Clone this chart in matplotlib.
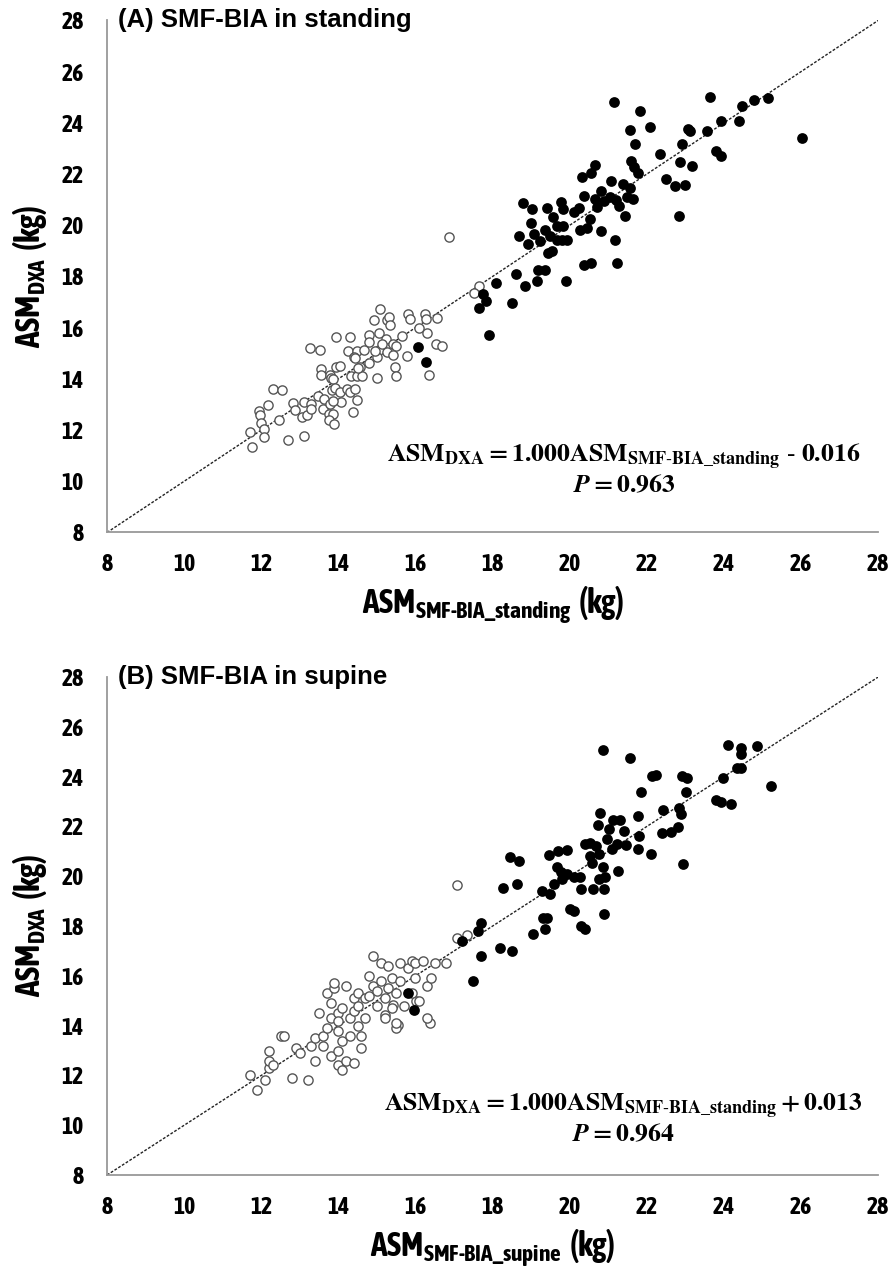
import matplotlib
matplotlib.use('Agg')
import matplotlib.pyplot as plt
from matplotlib import font_manager

# pick a condensed sans that has a bold face, else plain Liberation Sans
bold_narrow = sorted({f.name for f in font_manager.fontManager.ttflist
                      if ('Narrow' in f.name or 'Condensed' in f.name)
                      and isinstance(f.weight, int) and f.weight >= 600
                      or ('Narrow' in f.name or 'Condensed' in f.name)
                      and str(f.weight).lower() in ('bold', 'heavy', 'black', 'demibold', 'semibold')})
SANS = bold_narrow[0] if bold_narrow else 'Liberation Sans'

plt.rcParams['mathtext.fontset'] = 'custom'
plt.rcParams['mathtext.rm'] = SANS + ':bold'
plt.rcParams['mathtext.bf'] = SANS + ':bold'
plt.rcParams['mathtext.it'] = SANS + ':bold'

# ---- data (kg) ----
# (A) standing, filled = men, open = women
a_fill_x = [21.15, 23.63, 21.82, 25.14, 24.78, 24.46, 21.56, 22.09, 23.07, 23.11, 23.55, 23.92, 24.40,
            26.03, 21.70, 22.92, 22.35, 22.86, 23.18, 23.79, 23.92, 21.59, 21.67, 21.78, 20.67, 20.55,
            20.31, 21.08, 21.39, 21.57, 22.50, 22.73, 22.99, 20.81, 20.37, 20.67, 20.88, 20.72, 21.05,
            21.20, 21.27, 21.50, 21.64, 21.44, 22.83, 18.80, 19.02, 19.42, 19.78, 19.84, 20.10, 20.25,
            19.58, 19.68, 19.84, 19.00, 18.68, 19.08, 18.93, 19.22, 19.35, 19.48, 19.67, 19.80, 19.92,
            20.27, 20.46, 20.53, 20.81, 21.17, 19.45, 19.54, 19.17, 19.36, 20.38, 20.55, 21.22, 18.61,
            19.16, 18.84, 19.91, 18.08, 18.51, 17.75, 17.83, 17.66, 17.92, 16.07, 16.27]
a_fill_y = [24.82, 25.00, 24.48, 24.98, 24.91, 24.67, 23.74, 23.85, 23.77, 23.70, 23.69, 24.07, 24.07,
            23.39, 23.16, 23.16, 22.78, 22.49, 22.31, 22.90, 22.70, 22.51, 22.27, 22.04, 22.35, 22.04,
            21.87, 21.72, 21.62, 21.46, 21.80, 21.55, 21.57, 21.32, 21.16, 21.03, 20.94, 20.70, 21.10,
            20.97, 20.75, 21.12, 21.01, 20.38, 20.36, 20.86, 20.64, 20.68, 20.90, 20.64, 20.51, 20.67,
            20.32, 19.97, 19.97, 20.10, 19.59, 19.64, 19.28, 19.37, 19.82, 19.60, 19.41, 19.41, 19.41,
            19.82, 19.89, 20.25, 19.76, 19.41, 18.91, 18.99, 18.26, 18.24, 18.46, 18.54, 18.54, 18.08,
            17.82, 17.64, 17.84, 17.73, 16.96, 17.32, 17.04, 16.75, 15.73, 15.25, 14.65]
a_open_x = [16.86, 17.66, 17.52, 15.08, 14.93, 15.25, 15.32, 15.34, 15.81, 15.86, 16.26, 16.28, 16.57,
            16.08, 16.31, 15.65, 16.53, 16.69, 15.79, 16.36, 15.48, 15.50, 15.01, 13.27, 13.53, 13.93,
            14.29, 14.79, 15.06, 15.24, 15.43, 15.49, 15.05, 15.25, 15.43, 14.25, 14.48, 14.67, 14.79,
            14.41, 14.99, 14.80, 14.56, 13.56, 13.56, 13.78, 13.94, 14.04, 14.32, 14.48, 14.61, 13.82,
            13.87, 14.51, 12.31, 12.53, 12.17, 11.95, 11.97, 12.00, 12.07, 11.71, 11.76, 12.08, 12.46,
            12.69, 13.11, 12.82, 12.88, 13.05, 13.18, 13.11, 13.28, 13.30, 13.48, 13.63, 13.61, 13.78,
            13.83, 13.91, 14.04, 14.23, 14.29, 14.43, 14.48, 14.06, 13.87, 13.75, 13.87, 13.75, 13.89,
            14.39, 15.13, 14.96, 14.42]
a_open_y = [19.54, 17.61, 17.35, 16.74, 16.29, 16.31, 16.41, 16.09, 16.54, 16.34, 16.54, 16.35, 16.38,
            15.97, 15.79, 15.68, 15.36, 15.29, 14.88, 14.17, 14.48, 14.13, 14.04, 15.20, 15.12, 15.63,
            15.64, 15.71, 15.79, 15.55, 15.37, 15.28, 15.14, 15.06, 14.95, 15.08, 15.08, 15.14, 15.43,
            14.85, 14.85, 14.61, 14.46, 14.38, 14.15, 14.17, 14.46, 14.52, 14.13, 14.13, 14.13, 14.04,
            14.00, 14.43, 13.61, 13.55, 12.99, 12.74, 12.57, 12.27, 12.05, 11.92, 11.33, 11.72, 12.40,
            11.63, 11.75, 13.05, 12.79, 12.51, 12.57, 13.08, 13.03, 12.83, 13.35, 13.22, 12.83, 13.00,
            13.55, 13.65, 13.48, 13.61, 13.48, 13.61, 13.19, 13.09, 13.13, 12.61, 12.64, 12.38, 12.22,
            12.70, 15.37, 15.07, 14.82]

# (B) supine
b_fill_x = [20.87, 21.56, 24.10, 24.44, 24.44, 24.87, 24.33, 24.44, 23.99, 25.22, 22.13, 22.24, 22.91,
            23.04, 23.02, 21.85, 23.80, 23.92, 24.18, 22.43, 22.83, 22.88, 20.78, 20.74, 21.01, 21.13,
            21.31, 21.40, 21.78, 21.79, 20.98, 22.39, 22.64, 22.80, 20.40, 20.53, 20.69, 21.24, 21.46,
            21.09, 21.77, 22.11, 20.53, 20.75, 20.58, 20.86, 21.25, 22.95, 19.47, 19.70, 19.92, 18.44,
            18.68, 19.68, 19.77, 19.92, 20.10, 20.27, 20.75, 20.92, 18.27, 18.64, 19.28, 17.70, 17.62,
            19.32, 19.42, 19.36, 19.06, 19.60, 19.80, 20.30, 20.60, 20.90, 19.50, 20.30, 20.90, 20.00,
            20.10, 20.40, 17.20, 17.50, 17.70, 18.20, 18.50, 15.80, 15.95]
b_fill_y = [25.07, 24.76, 25.27, 25.17, 24.92, 25.25, 24.33, 24.33, 23.93, 23.61, 24.01, 24.08, 24.01,
            23.93, 23.37, 23.37, 23.08, 22.97, 22.89, 22.65, 22.75, 22.52, 22.55, 22.05, 21.91, 22.25,
            22.25, 21.81, 22.41, 21.61, 21.51, 21.72, 21.77, 21.99, 21.31, 21.35, 21.21, 21.28, 21.24,
            21.08, 21.11, 20.89, 20.81, 20.88, 20.52, 20.39, 20.21, 20.48, 20.85, 21.03, 21.05, 20.79,
            20.63, 20.39, 20.17, 20.08, 19.99, 19.99, 19.91, 19.99, 19.51, 19.71, 19.41, 18.12, 17.79,
            18.32, 18.32, 17.88, 17.68, 19.70, 19.90, 19.50, 19.50, 19.50, 19.30, 18.00, 18.50, 18.70,
            18.60, 17.90, 17.40, 15.80, 16.80, 17.10, 17.00, 15.30, 14.61]
b_open_x = [17.07, 17.33, 17.07, 16.38, 15.56, 15.50, 15.21, 15.43, 16.02, 11.70, 11.90, 12.10, 12.20,
            12.20, 12.20, 12.30, 12.50, 12.60, 12.80, 12.90, 13.00, 13.20, 13.30, 13.40, 13.50, 13.40,
            13.60, 13.60, 13.70, 13.70, 13.80, 13.80, 13.80, 13.90, 13.90, 14.00, 14.00, 14.00, 14.00,
            14.00, 14.10, 14.10, 14.10, 14.20, 14.30, 14.30, 14.40, 14.40, 14.50, 14.50, 14.50, 14.60,
            14.60, 14.70, 14.70, 14.80, 14.80, 14.90, 14.90, 15.00, 15.00, 15.10, 15.10, 15.20, 15.20,
            15.30, 15.30, 15.40, 15.40, 15.50, 15.50, 15.60, 15.60, 15.70, 15.80, 15.90, 15.90, 16.00,
            16.00, 16.10, 16.20, 16.30, 16.30, 16.50, 16.40, 16.80, 14.20, 14.40]
b_open_y = [19.65, 17.64, 17.51, 14.12, 14.04, 13.91, 14.44, 14.81, 15.01, 12.00, 11.40, 11.80, 12.30,
            12.60, 13.00, 12.40, 13.60, 13.60, 11.90, 13.10, 12.90, 11.80, 13.20, 12.60, 14.50, 13.50,
            13.60, 13.20, 13.90, 15.30, 12.80, 14.30, 14.90, 15.50, 15.70, 14.50, 14.20, 13.80, 13.00,
            12.40, 12.20, 13.40, 14.70, 15.60, 14.30, 13.60, 14.60, 15.10, 14.80, 15.30, 14.00, 13.60,
            13.10, 15.10, 14.30, 15.20, 16.00, 15.60, 16.80, 14.80, 15.40, 15.80, 16.50, 15.10, 14.30,
            15.50, 16.40, 15.90, 14.70, 15.30, 14.10, 16.50, 15.80, 14.80, 16.30, 16.60, 15.30, 16.50,
            15.90, 15.00, 16.60, 15.60, 14.30, 16.50, 15.90, 16.50, 12.60, 12.50]

ticks = [8, 10, 12, 14, 16, 18, 20, 22, 24, 26, 28]

panels = [
    ('(A) SMF-BIA in standing', a_fill_x, a_fill_y, a_open_x, a_open_y,
     r'$\mathbf{ASM_{SMF\text{-}BIA\_standing}\ (kg)}$',
     r'$\mathbf{ASM_{DXA}=1.000ASM_{SMF\text{-}BIA\_standing}\text{ - }0.016}$',
     r'$\mathbfit{P}\mathbf{=0.963}$', 10.95),
    ('(B) SMF-BIA in supine', b_fill_x, b_fill_y, b_open_x, b_open_y,
     r'$\mathbf{ASM_{SMF\text{-}BIA\_supine}\ (kg)}$',
     r'$\mathbf{ASM_{DXA}=1.000ASM_{SMF\text{-}BIA\_standing}+0.013}$',
     r'$\mathbfit{P}\mathbf{=0.964}$', 10.75),
]

narrow_ok = SANS != 'Liberation Sans'
fig = plt.figure(figsize=(8.95, 12.8), dpi=100)
boxes = [[0.1196, 0.584, 0.8615, 0.400], [0.1196, 0.082, 0.8615, 0.389]]

for box, (title, fx, fy, ox, oy, xlab, eq, pval, eq_y) in zip(boxes, panels):
    ax = fig.add_axes(box)
    ax.plot([8, 28], [8, 28], ls=(0, (2, 1.2)), color='#222222', lw=1.0, zorder=1)
    ax.scatter(ox, oy, s=44, facecolors='white', edgecolors='#555555', linewidths=1.0, zorder=2)
    ax.scatter(fx, fy, s=60, color='black', linewidths=0, zorder=3)
    ax.set_xlim(8, 28)
    ax.set_ylim(8, 28)
    ax.set_xticks(ticks)
    ax.set_yticks(ticks)
    for s in ['top', 'right']:
        ax.spines[s].set_visible(False)
    for s in ['left', 'bottom']:
        ax.spines[s].set_color('#999999')
        ax.spines[s].set_linewidth(1.3)
    ax.tick_params(axis='x', length=0, pad=15)
    ax.tick_params(axis='y', length=0, pad=17)
    for lbl in ax.get_xticklabels() + ax.get_yticklabels():
        lbl.set_fontfamily(SANS)
        lbl.set_fontweight('bold')
        lbl.set_fontsize(17 if narrow_ok else 14)
    ax.set_xlabel(xlab, fontsize=24 if narrow_ok else 20, labelpad=6, math_fontfamily='custom')
    ax.set_ylabel(r'$\mathbf{ASM_{DXA}\ (kg)}$', fontsize=24 if narrow_ok else 20, labelpad=9,
                  math_fontfamily='custom')
    ax.text(0.014, 1.0, title, transform=ax.transAxes, ha='left', va='center',
            fontsize=18.5, fontweight='bold', family='Liberation Sans')
    ax.text(21.4, eq_y, eq, ha='center', va='center', fontsize=18.5, math_fontfamily='stix')
    ax.text(21.4, eq_y - 1.1, pval, ha='center', va='center', fontsize=18.5, math_fontfamily='stix')

fig.savefig('out.png', dpi=100)
